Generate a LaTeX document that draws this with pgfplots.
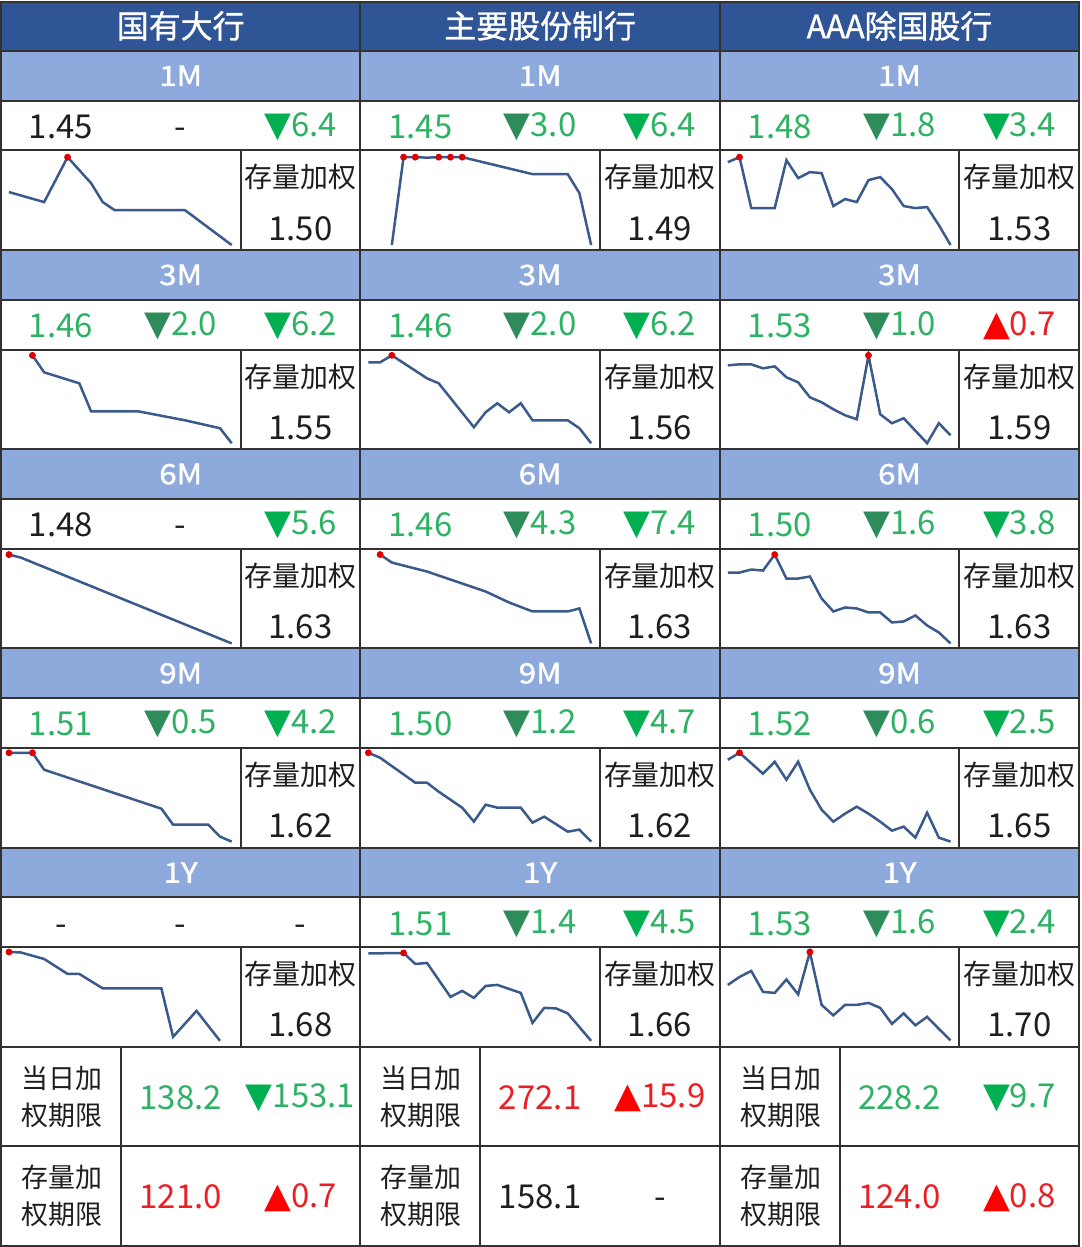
\documentclass[border=0pt]{standalone}
\usepackage{pgfplots}
\pgfplotsset{compat=1.18}
\usepackage{fontspec}
\setmainfont{Noto Sans CJK SC}
\newfontfamily\sym{DejaVu Sans}
\newfontfamily\hdrf[FakeBold=1]{Noto Sans CJK SC}
\newfontfamily\tenf[FakeBold=1.4, FakeStretch=1.12]{Noto Sans CJK SC}

\definecolor{hdr}{RGB}{47,85,151}
\definecolor{ten}{RGB}{142,169,219}
\definecolor{gridc}{RGB}{50,50,50}
\definecolor{spk}{RGB}{58,90,140}
\definecolor{gtxt}{RGB}{45,178,100}
\definecolor{gdark}{RGB}{46,140,90}
\definecolor{gbright}{RGB}{0,176,80}
\definecolor{rtxt}{RGB}{235,32,38}
\definecolor{ink}{RGB}{30,30,30}

\def\U{49.88}
\newcommand\num{\fontsize{16.5}{18}\selectfont\vphantom{0}}
\newcommand\tri[1]{{\sym\fontsize{17.5}{17.5}\selectfont #1}}
\newcommand\g[1]{\textcolor{gtxt}{#1}}
\newcommand\rr[1]{\textcolor{rtxt}{#1}}
\newcommand\dm[1]{\textcolor{gdark}{\tri{▼}}\textcolor{gtxt}{#1}}
\newcommand\dr[1]{\textcolor{gbright}{\tri{▼}}\textcolor{gtxt}{#1}}
\newcommand\up[1]{\textcolor{red}{\tri{▲}}\textcolor{rtxt}{#1}}

% sparkline: x of cell (px), tenor index, line data, max markers
\newcommand\spark[4]{%
  \begin{axis}[at={(#1*0.5pt,{-(3+4*#2)*\U*0.5pt})}, anchor=north west,
      width=120pt, height=\U pt, scale only axis,
      xmin=-0.68, xmax=19.76, ymin=0, ymax=99.76,
      axis lines=none, clip=false]
    \addplot[spk, line width=1.25pt, mark=none] coordinates {#3};
    \addplot[only marks, mark=*, mark size=1.5pt, color={rgb,255:red,220;green,0;blue,0}] coordinates {#4};
  \end{axis}}

% value row: column x, tenor index, three entries
\newcommand\vals[5]{%
  \node[ink] at ({#1+60},{(2.5+4*#2)*\U+1}) {\num #3};
  \node[ink] at ({#1+180},{(2.5+4*#2)*\U+1}) {\num #4};
  \node[ink] at ({#1+300},{(2.5+4*#2)*\U+1}) {\num #5};}
\newcommand\stock[3]{%
  \node[ink] at ({#1+300},{(3+4*#2)*\U+27}) {\fontsize{14}{16}\selectfont 存量加权};
  \node[ink] at ({#1+300},{(3+4*#2)*\U+78}) {\num #3};}
\newcommand\tenor[3]{%
  \node[white] at ({#1+180},{(1.5+4*#2)*\U}) {\tenf\fontsize{14}{16}\selectfont #3};}
\newcommand\bottom[6]{%
  \node[ink, align=center, font=\fontsize{13.5}{18.5}\selectfont] at ({#1+61},{(21+2*#2)*\U+\U}) {#3\\#4};
  \node[ink] at ({#1+180},{(21+2*#2)*\U+\U+1}) {\num #5};
  \node[ink] at ({#1+300},{(21+2*#2)*\U+\U+1}) {\num #6};}

\begin{document}
\begin{tikzpicture}[x=0.5pt,y=-0.5pt]
\fill[white] (0,0) rectangle (1080,1247);
\fill[hdr] (0,0) rectangle (1080,\U);
\foreach \t in {0,...,4} \fill[ten] (0,{(1+4*\t)*\U}) rectangle (1080,{(2+4*\t)*\U});

% 国有大行
\spark{0}{0}{(0,58)(3,48)(5,93)(7,67)(8,48)(9,40)(15,40)(19,5)}{(5,93)}
\spark{0}{1}{(2,94)(3,77)(6,66)(7,38)(11,38)(15,29)(18,21)(19,6)}{(2,94)}
\spark{0}{2}{(0,94)(1,91)(19,5)}{(0,94)}
\spark{0}{3}{(0,95)(2,95)(3,78)(13,39)(14,23)(17,23)(18,11)(19,6)}{(0,95)(2,95)}
\spark{0}{4}{(0,95)(1,94.5)(3,88)(5,73)(6,73)(8,58.5)(13,58.5)(14,10)(16,36)(18,6)}{(0,95)}
% 主要股份制行
\spark{360}{0}{(2,5)(3,93)(4,93)(5,92.5)(6,93)(7,93)(8,93)(14,76)(17,76)(18,57)(19,5)}{(3,93)(4,93)(6,93)(7,93)(8,93)}
\spark{360}{1}{(0,87)(1,87)(2,94)(5,71)(6,66)(9,22)(10,37)(11,46)(12,37)(13,46)(14,29)(17,29)(18,21)(19,6)}{(2,94)}
\spark{360}{2}{(1,94)(2,86)(5,77)(10,57)(12,46)(14,37)(17,37)(18,40)(19,5)}{(1,94)}
\spark{360}{3}{(0,95)(1,90)(4,65)(5,65)(6,56)(8,40)(9,26)(10,43)(11,40)(13,40)(14,25)(15,31)(17,16)(18,18)(19,6)}{(0,95)}
\spark{360}{4}{(0,93.5)(3,94)(4,83)(5,84)(7,50)(8,56)(9,49)(10,61)(11,62)(13,54)(14,24)(15,39)(16,38.5)(17,33.5)(19,6)}{(3,94)}
% AAA除国股行
\spark{720}{0}{(0,88)(1,93)(2,42)(3,42)(4,42)(5,90)(6,72)(7,78)(8,77)(9,44)(10,51)(11,48)(12,70)(13,73)(14,61)(15,44)(16,42)(17,43)(18,25)(19,5)}{(1,93)}
\spark{720}{1}{(0,84)(1,85)(2,85)(3,81)(4,83)(5,72)(6,67)(7,52)(8,47)(9,40)(10,34)(11,30)(12,94)(13,35)(14,26)(15,31)(17,6)(18,26)(19,14)}{(12,94)}
\spark{720}{2}{(0,76)(1,76)(2,79)(3,78)(4,94)(5,70)(6,70)(7,72)(8,50)(9,37)(10,41)(11,40)(12,36)(13,36)(14,26)(15,27)(16,33)(17,23)(18,16)(19,5)}{(4,94)}
\spark{720}{3}{(0,88)(1,95)(3,74)(4,86)(5,68)(6,86)(7,58)(8,38)(9,26)(10,34)(11,41)(12,34)(13,26)(14,17)(15,21)(16,10)(17,35)(18,10)(19,6)}{(1,95)}
\spark{720}{4}{(0,62)(1,70)(2,76)(3,55)(4,54)(5,67.5)(6,52.5)(7,95)(8,42)(9,31.5)(10,42)(11,42)(12,44)(13,39)(14,23)(15,33.5)(16,21.5)(17,30)(18,18)(19,6.5)}{(7,95)}

% grid
\begin{scope}[draw=gridc, line width=1pt]
\foreach \k in {1,2,3,5,6,7,9,10,11,13,14,15,17,18,19,21,23}
  \draw (0,{\k*\U}) -- (1080,{\k*\U});
\draw (360,0) -- (360,1247);
\draw (720,0) -- (720,1247);
\foreach \t in {0,...,4}
  \foreach \c in {240,600,960}
    \draw (\c,{(3+4*\t)*\U}) -- (\c,{(5+4*\t)*\U});
\foreach \c in {120,480,840}
  \draw (\c,{21*\U}) -- (\c,1247);
\draw (0.5,0.5) rectangle (1079.5,1246.5);
\end{scope}

% headers
\node[white] at (180,{0.5*\U}) {\hdrf\fontsize{16}{18}\selectfont 国有大行};
\node[white] at (540,{0.5*\U}) {\hdrf\fontsize{16}{18}\selectfont 主要股份制行};
\node[white] at (900,{0.5*\U}) {\hdrf\fontsize{16}{18}\selectfont AAA除国股行};
\foreach \c in {0,360,720} {
  \tenor{\c}{0}{1M}\tenor{\c}{1}{3M}\tenor{\c}{2}{6M}\tenor{\c}{3}{9M}\tenor{\c}{4}{1Y}}

\vals{0}{0}{1.45}{-}{\dr{6.4}}
\vals{0}{1}{\g{1.46}}{\dm{2.0}}{\dr{6.2}}
\vals{0}{2}{1.48}{-}{\dr{5.6}}
\vals{0}{3}{\g{1.51}}{\dm{0.5}}{\dr{4.2}}
\vals{0}{4}{-}{-}{-}
\vals{360}{0}{\g{1.45}}{\dm{3.0}}{\dr{6.4}}
\vals{360}{1}{\g{1.46}}{\dm{2.0}}{\dr{6.2}}
\vals{360}{2}{\g{1.46}}{\dm{4.3}}{\dr{7.4}}
\vals{360}{3}{\g{1.50}}{\dm{1.2}}{\dr{4.7}}
\vals{360}{4}{\g{1.51}}{\dm{1.4}}{\dr{4.5}}
\vals{720}{0}{\g{1.48}}{\dm{1.8}}{\dr{3.4}}
\vals{720}{1}{\g{1.53}}{\dm{1.0}}{\up{0.7}}
\vals{720}{2}{\g{1.50}}{\dm{1.6}}{\dr{3.8}}
\vals{720}{3}{\g{1.52}}{\dm{0.6}}{\dr{2.5}}
\vals{720}{4}{\g{1.53}}{\dm{1.6}}{\dr{2.4}}

\stock{0}{0}{1.50}\stock{0}{1}{1.55}\stock{0}{2}{1.63}\stock{0}{3}{1.62}\stock{0}{4}{1.68}
\stock{360}{0}{1.49}\stock{360}{1}{1.56}\stock{360}{2}{1.63}\stock{360}{3}{1.62}\stock{360}{4}{1.66}
\stock{720}{0}{1.53}\stock{720}{1}{1.59}\stock{720}{2}{1.63}\stock{720}{3}{1.65}\stock{720}{4}{1.70}

\bottom{0}{0}{当日加}{权期限}{\g{138.2}}{\dr{153.1}}
\bottom{0}{1}{存量加}{权期限}{\rr{121.0}}{\up{0.7}}
\bottom{360}{0}{当日加}{权期限}{\rr{272.1}}{\up{15.9}}
\bottom{360}{1}{存量加}{权期限}{158.1}{-}
\bottom{720}{0}{当日加}{权期限}{\g{228.2}}{\dr{9.7}}
\bottom{720}{1}{存量加}{权期限}{\rr{124.0}}{\up{0.8}}
\end{tikzpicture}
\end{document}
